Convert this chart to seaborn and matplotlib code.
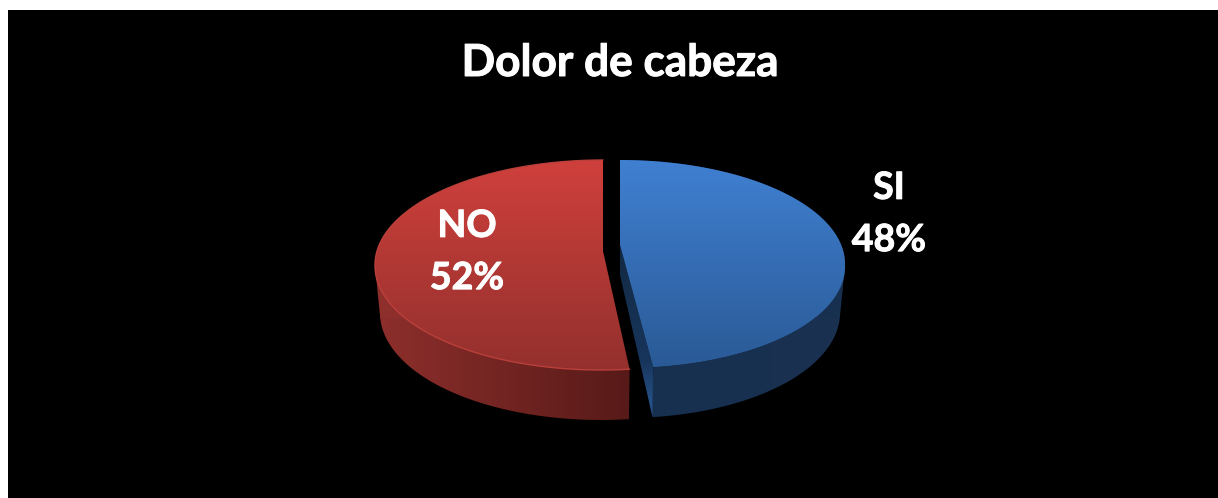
#!/usr/bin/env python3
import matplotlib
matplotlib.use("Agg")
import matplotlib.pyplot as plt
import matplotlib.patheffects as pe
import seaborn as sns
import numpy as np
from matplotlib.patches import Polygon

title = "Dolor de cabeza"
categories = ["SI", "NO"]
values = [48, 52]

sns.set_theme(style="white")
plt.rcParams['font.family'] = ['Lato', 'DejaVu Sans']

# where each slice sits on the picture (pixels), pie is drawn by hand since seaborn has none
slices = {
    "SI": dict(top=(620, 264, 225, 104), bottom=(620, 310, 220, 108), apex=(620, 245), apex_low=(620, 275),
               shear=5, side=1,
               top_cols=["#4080d2", "#2a5a96"], side_cols=["#17304f", "#1a3152"],
               face_cols=["#122841", "#15304f", "#17345a", "#2a5a96"], label=(889, 214)),
    "NO": dict(top=(603, 265, 228, 105), bottom=(603, 312, 223, 108), apex=(603, 251), apex_low=(603, 290),
               shear=-2, side=-1,
               top_cols=["#cf403c", "#93302d"], side_cols=["#8e2f2c", "#571a18"],
               face_cols=["#571a18", "#571a18"], label=(467, 252)),
}
bold = [pe.withStroke(linewidth=0.7, foreground="white")]


def arc(ell, t0, t1, shear):
    # angles run clockwise from 12 o'clock, shear leans the near edge a little
    t = np.linspace(t0, t1, 200)
    return np.column_stack([ell[0] + ell[2] * np.sin(t) + shear * np.clip(-np.cos(t), 0, 1), ell[1] - ell[3] * np.cos(t)])


def fill(ax, pts, cols, horizontal=False, zorder=1):
    patch = Polygon(pts, closed=True, facecolor="none", edgecolor="none", zorder=zorder)
    ax.add_patch(patch)
    grad = np.linspace(0, 1, 256)
    grad = grad.reshape(1, -1) if horizontal else grad.reshape(-1, 1)
    x0, y0 = pts.min(axis=0)
    x1, y1 = pts.max(axis=0)
    im = ax.imshow(grad, cmap=sns.blend_palette(cols, as_cmap=True), aspect="auto",
                   extent=(x0, x1, y1, y0), zorder=zorder, interpolation="bilinear")
    im.set_clip_path(patch)


def shoulder(s, top_arc, low_arc):
    # straight bit from the widest point of the top down onto the bottom rim
    p = top_arc[np.argmax(s["side"] * top_arc[:, 0])]
    below = low_arc[low_arc[:, 1] > p[1] + 5]
    q = below[np.argmax(s["side"] * (below[:, 0] - p[0]) / (below[:, 1] - p[1]))]
    inner = s["top"][0] + s["side"] * 60
    return np.array([p, q, [inner, q[1]], [inner, p[1]]])


fig = plt.figure(figsize=(12.18, 4.98), dpi=100, facecolor="white")
ax = fig.add_axes([8 / 1218, 0, 1210 / 1218, 488 / 498], facecolor="black")

edges = np.cumsum([0] + values) / sum(values) * 2 * np.pi
for i, name in enumerate(categories):
    s = slices[name]
    t0, t1 = edges[i], edges[i + 1]
    top_arc = arc(s["top"], t0, t1, s["shear"])
    low_arc = arc(s["bottom"], t0, t1, s["shear"])

    # outer wall, then the cut wall, then the top
    wall = np.vstack([top_arc, low_arc[::-1]])
    fill(ax, wall, s["side_cols"], horizontal=True, zorder=1)
    fill(ax, shoulder(s, top_arc, low_arc), [s["side_cols"][0], s["side_cols"][0]], horizontal=True, zorder=1)
    if name == "SI":
        cut = np.array([s["apex"], top_arc[-1], low_arc[-1], s["apex_low"]])
        fill(ax, cut, s["face_cols"], zorder=2)
    fill(ax, np.vstack([[s["apex"]], top_arc]), s["top_cols"], zorder=3)

    if name == "NO":
        ax.plot(top_arc[:, 0], top_arc[:, 1], color="#bb403b", lw=1.0, zorder=4)
    ax.text(s["label"][0], s["label"][1], f"{name}\n{values[i]}%", color="white", fontsize=27,
            fontweight="bold", ha="center", va="center", linespacing=1.65, zorder=5, path_effects=bold)

ax.text(620, 63, title, color="white", fontsize=31.8, fontweight="bold", ha="center", va="center", zorder=5,
        path_effects=bold)

ax.set_xlim(8, 1218)
ax.set_ylim(498, 10)
ax.set_xticks([])
ax.set_yticks([])
for sp in ax.spines.values():
    sp.set_visible(False)

fig.savefig("out.png", dpi=100, facecolor="white")
